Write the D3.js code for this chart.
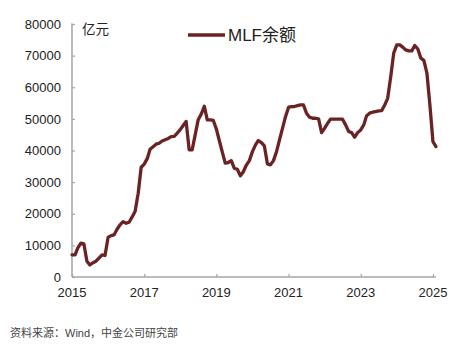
<!DOCTYPE html>
<html><head><meta charset="utf-8">
<script src="https://cdn.jsdelivr.net/npm/d3@7"></script>
<style>
html,body{margin:0;padding:0;background:#fff;}
svg{display:block;}
</style></head>
<body>
<svg id="chart" width="466" height="344"></svg>
<script>
// Month-end observations (亿元)
const startMonth = "2014-12";
const mlfValues = [
  7000,
  7000, 9200, 10700, 10500, 5000, 3800, 4500, 5000, 6000, 7000, 6800, 12500,
  13100, 13300, 15100, 16500, 17500, 17000, 17300, 19000, 20800, 26500, 34700, 35700,
  37500, 40400, 41200, 42000, 42300, 43000, 43400, 43800, 44400, 44500, 45500, 46600,
  48000, 49200, 40200, 40200, 45000, 49700, 51500, 54000, 49700, 49700, 49500, 46800,
  43000, 39650, 36000, 36200, 36800, 34400, 34050, 32000, 33300, 35400, 36800, 39650,
  41800, 43150, 42500, 41450, 35750, 35450, 36800, 39650, 43350, 47050, 50700, 53700,
  53900, 53900, 54200, 54400, 54400, 51800, 50550, 50200, 50200, 50000, 45650, 47050,
  48650, 49900, 49900, 49900, 49900, 49900, 48100, 46000, 45650, 44200, 45650, 46500,
  48100, 50950, 51800, 52100, 52300, 52500, 52600, 54400, 56500, 63400, 70800, 73400,
  73400, 72700, 71800, 71500, 71500, 73200, 72100, 69200, 68500, 64500, 54500, 42800,
  41250
];
const yTicks = [0, 10000, 20000, 30000, 40000, 50000, 60000, 70000, 80000];
const xTickYears = [2015, 2017, 2019, 2021, 2023, 2025];
const seriesName = "MLF余额";
const unitLabel = "亿元";
const sourceText = "资料来源：Wind，中金公司研究部";

const parse = d3.timeParse("%Y-%m");
const first = parse(startMonth);
// plot each value at its month end (= first day of next month)
const data = mlfValues.map((v, i) => ({
  date: d3.timeMonth.offset(first, i + 1),
  value: v
}));

const svg = d3.select("#chart");
const axisColor = "#a6a6a6";
const lineColor = "#6b2222";
const font = "'Liberation Sans', Arial, 'Noto Sans CJK SC', sans-serif";

const x = d3.scaleTime()
  .domain([new Date(2015, 0, 1), new Date(2025, 1, 1)])
  .range([72, 436]);
const y = d3.scaleLinear().domain([0, 80000]).range([277, 24]);

// Y axis
const yAxis = svg.append("g").attr("transform", "translate(72,0)")
  .call(d3.axisRight(y).tickValues(yTicks).tickSize(3).tickFormat(""));
yAxis.select(".domain").attr("stroke", axisColor).attr("stroke-width", 1.5)
  .attr("d", `M0.5,${y(80000)}H0V${y(0)}`);
yAxis.selectAll(".tick line").attr("stroke", axisColor).attr("stroke-width", 1.2);

svg.append("g").selectAll("text").data(yTicks).join("text")
  .attr("x", 61).attr("y", d => y(d)).attr("dy", "0.36em")
  .attr("text-anchor", "end")
  .attr("font-family", font).attr("font-size", 13).attr("fill", "#222")
  .text(d => d);

// X axis
const xAxis = svg.append("g").attr("transform", `translate(0,${y(0)})`)
  .call(d3.axisTop(x).tickValues(xTickYears.map(yr => new Date(yr, 0, 1))).tickSize(3).tickFormat(""));
xAxis.select(".domain").attr("stroke", axisColor).attr("stroke-width", 1.5)
  .attr("d", `M72,0H436`);
xAxis.selectAll(".tick line").attr("stroke", axisColor).attr("stroke-width", 1.2);

svg.append("g").selectAll("text").data(xTickYears).join("text")
  .attr("x", d => x(new Date(d, 0, 1))).attr("y", 297)
  .attr("text-anchor", "middle")
  .attr("font-family", font).attr("font-size", 13).attr("fill", "#222")
  .text(d => d);

// Line
const line = d3.line().x(d => x(d.date)).y(d => y(d.value));
svg.append("path").datum(data)
  .attr("d", line)
  .attr("fill", "none")
  .attr("stroke", lineColor)
  .attr("stroke-width", 3.3)
  .attr("stroke-linejoin", "round")
  .attr("stroke-linecap", "round");

// Unit label
svg.append("text").attr("x", 82).attr("y", 34)
  .attr("font-family", font).attr("font-size", 13.5).attr("fill", "#222")
  .text(unitLabel);

// Legend
svg.append("line").attr("x1", 188).attr("x2", 225).attr("y1", 35).attr("y2", 35)
  .attr("stroke", lineColor).attr("stroke-width", 3.5);
svg.append("text").attr("x", 228).attr("y", 41)
  .attr("font-family", font).attr("font-size", 17).attr("fill", "#222")
  .text(seriesName);

// Source
svg.append("text").attr("x", 10).attr("y", 337)
  .attr("font-family", font).attr("font-size", 11).attr("fill", "#444")
  .text(sourceText);
</script>
</body></html>
